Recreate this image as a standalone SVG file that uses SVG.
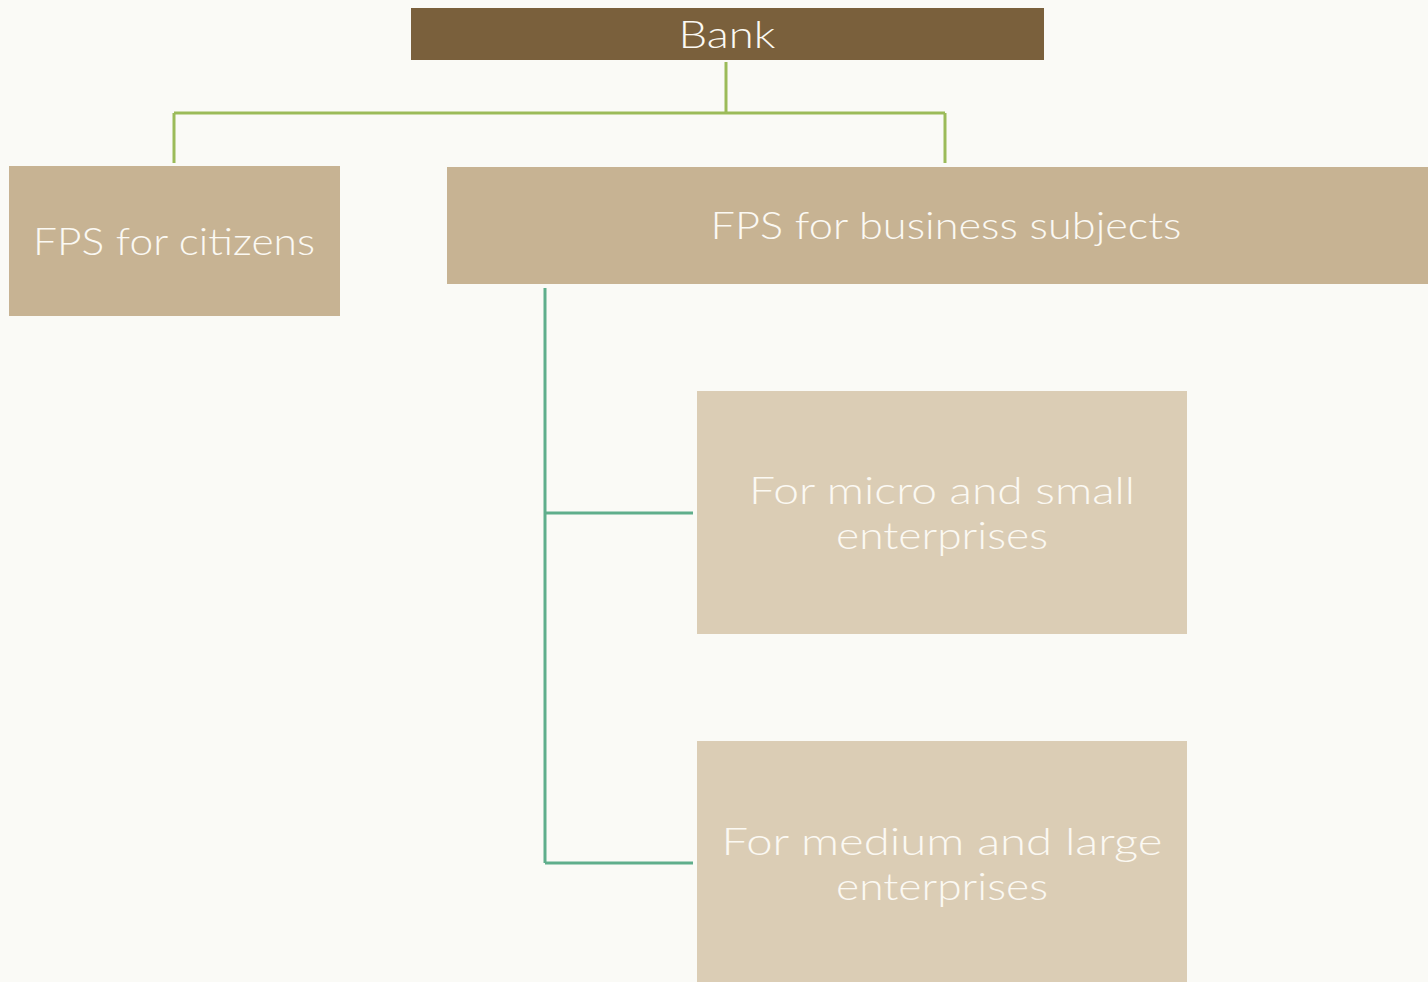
<svg xmlns="http://www.w3.org/2000/svg" width="1428" height="982" viewBox="0 0 1428 982">
<style>
.t{font-family:Lato,"Open Sans","Liberation Sans",sans-serif;font-weight:300;font-size:37px;fill:#FBF9F3;text-anchor:middle}
.g{fill:none;stroke:#9BBB59;stroke-width:3}
.s{fill:none;stroke:#5FAE8C;stroke-width:3}
</style>
<rect width="1428" height="982" fill="#FAFAF6"/>
<g id="connectors">
<path class="g" d="M726 62V113M174 113H945M174 113V163M945 113V163"/>
<path class="s" d="M545 288V863M545 513H693M545 863H693"/>
</g>
<g id="bank"><rect x="411" y="8" width="633" height="52" fill="#7A603C"/><text class="t" x="727" y="48" textLength="97" lengthAdjust="spacingAndGlyphs">Bank</text></g>
<g id="citizens"><rect x="9" y="166" width="331" height="150" fill="#C7B393"/><text class="t" x="174" y="255" textLength="282" lengthAdjust="spacingAndGlyphs">FPS for citizens</text></g>
<g id="business"><rect x="447" y="167" width="985" height="117" fill="#C7B393"/><text class="t" x="946" y="239" textLength="471" lengthAdjust="spacingAndGlyphs">FPS for business subjects</text></g>
<g id="micro"><rect x="697" y="391" width="490" height="243" fill="#DBCDB5"/><text class="t" x="942" y="504" textLength="386" lengthAdjust="spacingAndGlyphs">For micro and small</text><text class="t" x="942" y="549" textLength="212" lengthAdjust="spacingAndGlyphs">enterprises</text></g>
<g id="medium"><rect x="697" y="741" width="490" height="245" fill="#DBCDB5"/><text class="t" x="942" y="855" textLength="441" lengthAdjust="spacingAndGlyphs">For medium and large</text><text class="t" x="942" y="900" textLength="212" lengthAdjust="spacingAndGlyphs">enterprises</text></g>
</svg>
